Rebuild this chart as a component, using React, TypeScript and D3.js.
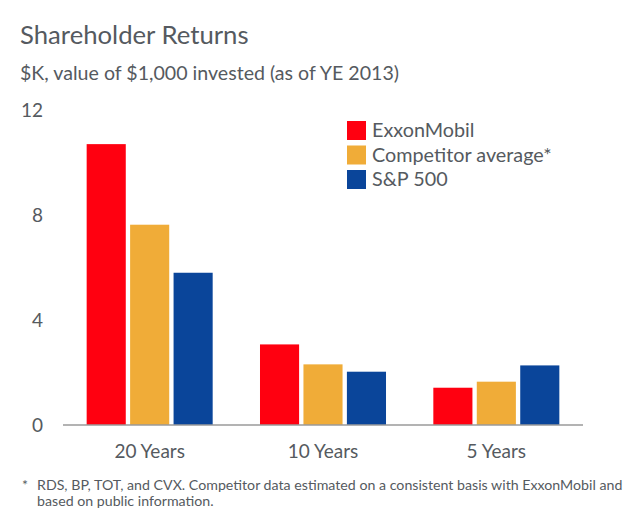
import React from "react";
import * as d3 from "d3";

const categories = ["20 Years", "10 Years", "5 Years"];
const seriesNames = ["ExxonMobil", "Competitor average*", "S&P 500"];
const exxonMobil = [10.7, 3.07, 1.42];
const competitorAverage = [7.63, 2.31, 1.65];
const sp500 = [5.8, 2.03, 2.27];
const yTicks = [0, 4, 8, 12];
const colors = ["#FF0010", "#F0AC38", "#0A459A"];
const footnoteLines = [
  "RDS, BP, TOT, and CVX. Competitor data estimated on a consistent basis with ExxonMobil and",
  "based on public information.",
];

const W = 640;
const H = 514;
const FONT = "Lato, 'Open Sans', sans-serif";
const TEXT = "#555a60";

export default function App() {
  const seriesValues = [exxonMobil, competitorAverage, sp500];
  const x0 = d3.scaleBand<string>().domain(categories).range([63, 583]).paddingInner(0.273).paddingOuter(0.1365);
  const x1 = d3.scaleBand<string>().domain(seriesNames).range([0, x0.bandwidth()]).paddingInner(0.1);
  const y = d3.scaleLinear().domain([0, 12]).range([425, 110]);

  return (
    <svg width={W} height={H} style={{ position: "absolute", left: 0, top: 0, background: "#fff" }}>
      <text x={20} y={44} fontFamily={FONT} fontSize={25.7} fill={TEXT}>Shareholder Returns</text>
      <text x={20} y={80} fontFamily={FONT} fontSize={19.6} fill={TEXT}>$K, value of $1,000 invested (as of YE 2013)</text>

      {yTicks.map((t) => (
        <text key={t} x={43} y={y(t)} dy="0.35em" textAnchor="end" fontFamily={FONT} fontSize={19} fill={TEXT}>{t}</text>
      ))}

      {categories.map((c, ci) => (
        <g key={c} transform={`translate(${x0(c)},0)`}>
          {seriesNames.map((s, si) => (
            <rect key={s} x={x1(s)} y={y(seriesValues[si][ci])} width={x1.bandwidth()}
              height={y(0) - y(seriesValues[si][ci])} fill={colors[si]} />
          ))}
        </g>
      ))}

      <line x1={63} x2={583} y1={y(0)} y2={y(0)} stroke="#9a9a9a" strokeWidth={1.5} />

      {categories.map((c) => (
        <text key={c} x={(x0(c) as number) + x0.bandwidth() / 2} y={458} textAnchor="middle" fontFamily={FONT} fontSize={19} fill={TEXT}>{c}</text>
      ))}

      {seriesNames.map((s, i) => (
        <g key={s} transform={`translate(347,${121 + i * 24.5})`}>
          <rect width={19} height={19} fill={colors[i]} />
          <text x={25} y={9.5} dy="0.35em" fontFamily={FONT} fontSize={19.8} fill={TEXT}>{s}</text>
        </g>
      ))}

      <text x={22} y={490} fontFamily={FONT} fontSize={14.2} fill={TEXT}>*</text>
      {footnoteLines.map((l, i) => (
        <text key={i} x={37} y={490 + i * 16} fontFamily={FONT} fontSize={14.2} fill={TEXT}>{l}</text>
      ))}
    </svg>
  );
}
